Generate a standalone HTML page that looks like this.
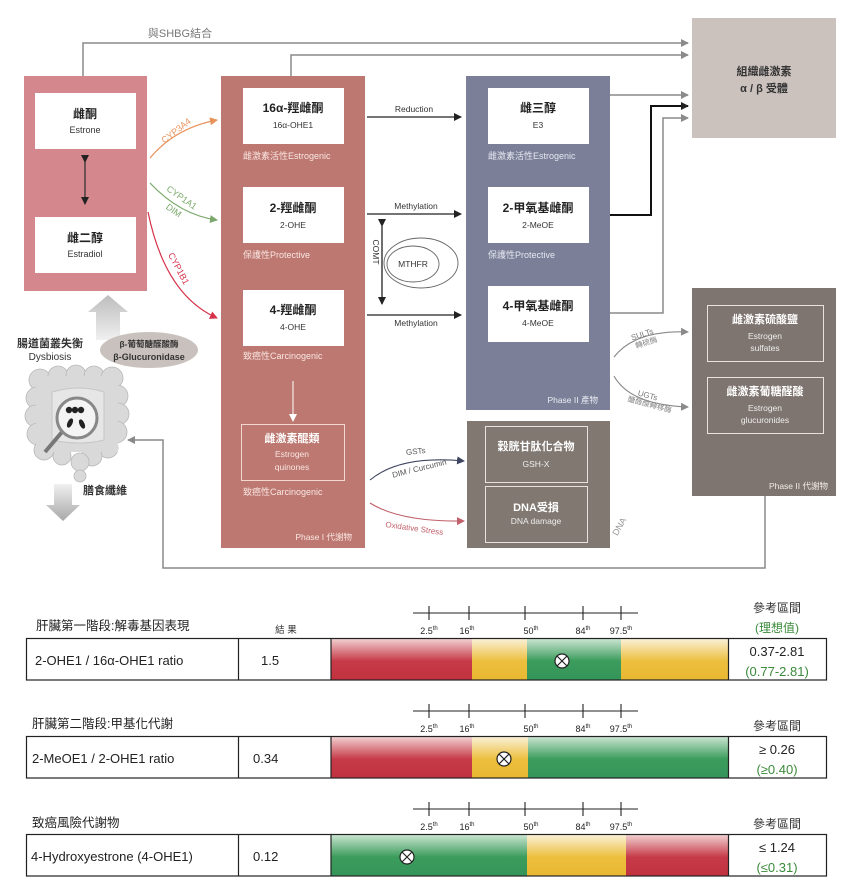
<!DOCTYPE html>
<html><head><meta charset="utf-8"><style>
html,body{margin:0;padding:0;background:#fff;width:865px;height:890px;overflow:hidden}
svg{display:block}
text{font-family:"Liberation Sans","Noto Sans CJK TC",sans-serif}
</style></head><body>
<svg width="865" height="890" viewBox="0 0 865 890" xmlns="http://www.w3.org/2000/svg">
<defs>
<marker id="ag" markerWidth="8" markerHeight="8" refX="7" refY="4" orient="auto" markerUnits="userSpaceOnUse"><path d="M0,0 L8,4 L0,8 z" fill="#8a8a8a"/></marker>
<marker id="ak" markerWidth="8" markerHeight="8" refX="7" refY="4" orient="auto" markerUnits="userSpaceOnUse"><path d="M0,0 L8,4 L0,8 z" fill="#222"/></marker>
<marker id="ab" markerWidth="8" markerHeight="8" refX="7" refY="4" orient="auto" markerUnits="userSpaceOnUse"><path d="M0,0 L8,4 L0,8 z" fill="#3e4560"/></marker>
<marker id="ao" markerWidth="8" markerHeight="8" refX="7" refY="4" orient="auto" markerUnits="userSpaceOnUse"><path d="M0,0 L8,4 L0,8 z" fill="#e8925a"/></marker>
<marker id="agr" markerWidth="8" markerHeight="8" refX="7" refY="4" orient="auto" markerUnits="userSpaceOnUse"><path d="M0,0 L8,4 L0,8 z" fill="#7aa86a"/></marker>
<marker id="ar" markerWidth="8" markerHeight="8" refX="7" refY="4" orient="auto" markerUnits="userSpaceOnUse"><path d="M0,0 L8,4 L0,8 z" fill="#d6334a"/></marker>
<marker id="arp" markerWidth="8" markerHeight="8" refX="7" refY="4" orient="auto" markerUnits="userSpaceOnUse"><path d="M0,0 L8,4 L0,8 z" fill="#c0606a"/></marker>
<marker id="aw" markerWidth="8" markerHeight="8" refX="7" refY="4" orient="auto" markerUnits="userSpaceOnUse"><path d="M0,0 L8,4 L0,8 z" fill="#fff"/></marker>
<linearGradient id="gr" x1="0" y1="0" x2="0" y2="1"><stop offset="0" stop-color="#f3d6d6"/><stop offset="0.55" stop-color="#c63a48"/><stop offset="1" stop-color="#c2323f"/></linearGradient>
<linearGradient id="gy" x1="0" y1="0" x2="0" y2="1"><stop offset="0" stop-color="#fbf2dc"/><stop offset="0.55" stop-color="#ecbf3e"/><stop offset="1" stop-color="#e9b832"/></linearGradient>
<linearGradient id="gg" x1="0" y1="0" x2="0" y2="1"><stop offset="0" stop-color="#cfe7d5"/><stop offset="0.55" stop-color="#3b9c5c"/><stop offset="1" stop-color="#35955a"/></linearGradient>
<linearGradient id="ga" x1="0" y1="0" x2="0" y2="1"><stop offset="0" stop-color="#bdbdbd"/><stop offset="1" stop-color="#f0f0f0"/></linearGradient>
<linearGradient id="gd" x1="0" y1="0" x2="0" y2="1"><stop offset="0" stop-color="#f0f0f0"/><stop offset="1" stop-color="#a8a8a8"/></linearGradient>
</defs>

<g fill="none" stroke="#8a8a8a" stroke-width="1.5">
<path d="M83,76 V43 H688" marker-end="url(#ag)"/>
<path d="M291,76 V55 H688" marker-end="url(#ag)"/>
<path d="M610,95 H688" marker-end="url(#ag)"/>
<path d="M610,313 H663 V118 H688" marker-end="url(#ag)"/>
<path d="M765,496 V568 H163 V440 H128" marker-end="url(#ag)"/>
</g>
<path d="M610,215 H651 V106 H688" fill="none" stroke="#111" stroke-width="2" marker-end="url(#ak)"/>
<text x="180" y="37" font-size="11" fill="#777" text-anchor="middle">與SHBG結合</text>

<rect x="24" y="76" width="123" height="215" fill="#d4888e"/>
<rect x="35" y="93" width="101" height="56" fill="#fff"/>
<rect x="35" y="217" width="101" height="56" fill="#fff"/>
<text x="85" y="118" font-size="12" font-weight="bold" text-anchor="middle" fill="#222">雌酮</text>
<text x="85" y="133" font-size="9" text-anchor="middle" fill="#333">Estrone</text>
<text x="85" y="242" font-size="12" font-weight="bold" text-anchor="middle" fill="#222">雌二醇</text>
<text x="85" y="257" font-size="9" text-anchor="middle" fill="#333">Estradiol</text>
<path d="M85,162 V204" stroke="#333" stroke-width="1.3" marker-end="url(#ak)" marker-start="url(#ak)" fill="none"/>

<path d="M150,158 Q175,128 217,120" fill="none" stroke="#e8925a" stroke-width="1.2" marker-end="url(#ao)"/>
<text x="178" y="133" font-size="9" fill="#e8925a" transform="rotate(-38 178 133)" text-anchor="middle">CYP3A4</text>
<path d="M150,183 Q180,215 217,220" fill="none" stroke="#7aa86a" stroke-width="1.2" marker-end="url(#agr)"/>
<text x="180" y="200" font-size="9" fill="#7aa86a" transform="rotate(35 180 200)" text-anchor="middle">CYP1A1</text>
<text x="172" y="213" font-size="9" fill="#7aa86a" transform="rotate(35 172 213)" text-anchor="middle">DIM</text>
<path d="M148,212 Q165,295 217,318" fill="none" stroke="#d6334a" stroke-width="1.2" marker-end="url(#ar)"/>
<text x="176" y="270" font-size="9" fill="#d6334a" transform="rotate(62 176 270)" text-anchor="middle">CYP1B1</text>

<rect x="221" y="76" width="144" height="472" fill="#bc7871"/>
<rect x="243" y="88" width="101" height="56" fill="#fff"/>
<rect x="243" y="187" width="101" height="56" fill="#fff"/>
<rect x="243" y="290" width="101" height="56" fill="#fff"/>
<text x="293" y="112" font-size="12" font-weight="bold" text-anchor="middle" fill="#222">16α-羥雌酮</text>
<text x="293" y="128" font-size="8.5" text-anchor="middle" fill="#333">16α-OHE1</text>
<text x="293" y="212" font-size="12" font-weight="bold" text-anchor="middle" fill="#222">2-羥雌酮</text>
<text x="293" y="228" font-size="8.5" text-anchor="middle" fill="#333">2-OHE</text>
<text x="293" y="314" font-size="12" font-weight="bold" text-anchor="middle" fill="#222">4-羥雌酮</text>
<text x="293" y="330" font-size="8.5" text-anchor="middle" fill="#333">4-OHE</text>
<g font-size="9" fill="#fbe6e2">
<text x="243" y="159">雌激素活性Estrogenic</text>
<text x="243" y="258">保護性Protective</text>
<text x="243" y="359">致癌性Carcinogenic</text>
<text x="243" y="495">致癌性Carcinogenic</text>
</g>
<path d="M293,381 V421" stroke="#fff" stroke-width="1" marker-end="url(#aw)" fill="none"/>
<rect x="241.5" y="424.5" width="103" height="56" fill="none" stroke="#f3d8d2" stroke-width="1"/>
<text x="292" y="442" font-size="11" font-weight="bold" text-anchor="middle" fill="#fff">雌激素醌類</text>
<text x="292" y="457" font-size="8.5" text-anchor="middle" fill="#fbe6e2">Estrogen</text>
<text x="292" y="470" font-size="8.5" text-anchor="middle" fill="#fbe6e2">quinones</text>
<text x="352" y="540" font-size="8.5" text-anchor="end" fill="#fbe6e2">Phase I 代謝物</text>

<g fill="none" stroke="#222" stroke-width="1.3">
<path d="M367,117 H461" marker-end="url(#ak)"/>
<path d="M367,214 H461" marker-end="url(#ak)"/>
<path d="M367,315 H461" marker-end="url(#ak)"/>
<path d="M382,226 V304" marker-end="url(#ak)" marker-start="url(#ak)"/>
</g>
<g font-size="8.5" fill="#333" text-anchor="middle">
<text x="414" y="112">Reduction</text>
<text x="416" y="209">Methylation</text>
<text x="416" y="326">Methylation</text>
<text x="373" y="252" transform="rotate(90 373 252)">COMT</text>
<text x="413" y="267">MTHFR</text>
</g>
<ellipse cx="421" cy="263" rx="37" ry="25" fill="none" stroke="#666" stroke-width="0.9"/>
<ellipse cx="413" cy="264" rx="26" ry="18" fill="none" stroke="#666" stroke-width="0.9"/>

<rect x="466" y="76" width="144" height="334" fill="#7b7f98"/>
<rect x="488" y="88" width="101" height="56" fill="#fff"/>
<rect x="488" y="187" width="101" height="56" fill="#fff"/>
<rect x="488" y="286" width="101" height="56" fill="#fff"/>
<text x="538" y="112" font-size="12" font-weight="bold" text-anchor="middle" fill="#222">雌三醇</text>
<text x="538" y="128" font-size="8.5" text-anchor="middle" fill="#333">E3</text>
<text x="538" y="212" font-size="12" font-weight="bold" text-anchor="middle" fill="#222">2-甲氧基雌酮</text>
<text x="538" y="228" font-size="8.5" text-anchor="middle" fill="#333">2-MeOE</text>
<text x="538" y="310" font-size="12" font-weight="bold" text-anchor="middle" fill="#222">4-甲氧基雌酮</text>
<text x="538" y="326" font-size="8.5" text-anchor="middle" fill="#333">4-MeOE</text>
<text x="488" y="159" font-size="9" fill="#e6e8f0">雌激素活性Estrogenic</text>
<text x="488" y="258" font-size="9" fill="#e6e8f0">保護性Protective</text>
<text x="598" y="403" font-size="8.5" text-anchor="end" fill="#eceef4">Phase II 產物</text>

<rect x="692" y="18" width="144" height="120" fill="#cbc2be"/>
<text x="764" y="75" font-size="11" font-weight="bold" text-anchor="middle" fill="#333">組織雌激素</text>
<text x="764" y="92" font-size="11" font-weight="bold" text-anchor="middle" fill="#333">α / β 受體</text>

<rect x="692" y="288" width="144" height="208" fill="#7f7570"/>
<rect x="707.5" y="305.5" width="116" height="56" fill="none" stroke="#e8e2de" stroke-width="1"/>
<rect x="707.5" y="377.5" width="116" height="56" fill="none" stroke="#e8e2de" stroke-width="1"/>
<text x="765" y="323" font-size="11" font-weight="bold" text-anchor="middle" fill="#fff">雌激素硫酸鹽</text>
<text x="765" y="339" font-size="8.5" text-anchor="middle" fill="#eee">Estrogen</text>
<text x="765" y="351" font-size="8.5" text-anchor="middle" fill="#eee">sulfates</text>
<text x="765" y="395" font-size="11" font-weight="bold" text-anchor="middle" fill="#fff">雌激素葡糖醛酸</text>
<text x="765" y="411" font-size="8.5" text-anchor="middle" fill="#eee">Estrogen</text>
<text x="765" y="423" font-size="8.5" text-anchor="middle" fill="#eee">glucuronides</text>
<text x="828" y="489" font-size="8.5" text-anchor="end" fill="#f0ece8">Phase II 代謝物</text>

<path d="M614,357 Q635,330 688,332" fill="none" stroke="#888" stroke-width="1.1" marker-end="url(#ag)"/>
<text x="643" y="337" font-size="8" fill="#777" transform="rotate(-18 643 337)" text-anchor="middle">SULTs</text>
<text x="647" y="345" font-size="7.5" fill="#888" transform="rotate(-18 647 345)" text-anchor="middle">轉硫酶</text>
<path d="M614,376 Q630,405 688,407" fill="none" stroke="#888" stroke-width="1.1" marker-end="url(#ag)"/>
<text x="647" y="398" font-size="8" fill="#777" transform="rotate(15 647 398)" text-anchor="middle">UGTs</text>
<text x="649" y="407" font-size="7.5" fill="#888" transform="rotate(15 649 407)" text-anchor="middle">醣醛酸轉移酶</text>

<rect x="467" y="421" width="143" height="127" fill="#817872"/>
<rect x="485.5" y="426.5" width="102" height="56" fill="none" stroke="#e8e2de" stroke-width="1"/>
<rect x="485.5" y="486.5" width="102" height="56" fill="none" stroke="#e8e2de" stroke-width="1"/>
<text x="536" y="450" font-size="11" font-weight="bold" text-anchor="middle" fill="#fff">穀胱甘肽化合物</text>
<text x="536" y="467" font-size="8.5" text-anchor="middle" fill="#eee">GSH-X</text>
<text x="536" y="511" font-size="11" font-weight="bold" text-anchor="middle" fill="#fff">DNA受損</text>
<text x="536" y="524" font-size="8.5" text-anchor="middle" fill="#eee">DNA damage</text>
<text x="622" y="528" font-size="9" fill="#999" transform="rotate(-60 622 528)" text-anchor="middle">DNA</text>

<path d="M370,480 Q400,455 464,461" fill="none" stroke="#3e4560" stroke-width="1.1" marker-end="url(#ab)"/>
<text x="416" y="454" font-size="8" fill="#555" transform="rotate(-6 416 454)" text-anchor="middle">GSTs</text>
<text x="420" y="471" font-size="8" fill="#555" transform="rotate(-14 420 471)" text-anchor="middle">DIM / Curcumin</text>
<path d="M370,503 Q400,522 464,521" fill="none" stroke="#c0606a" stroke-width="1.1" marker-end="url(#arp)"/>
<text x="414" y="531" font-size="8" fill="#c0606a" transform="rotate(8 414 531)" text-anchor="middle">Oxidative Stress</text>

<!-- gut area -->
<path d="M96,340 V312 H88 L108,295 L128,312 H120 V340 z" fill="url(#ga)"/>
<text x="50" y="347" font-size="11" font-weight="bold" text-anchor="middle" fill="#333">腸道菌叢失衡</text>
<text x="50" y="360" font-size="10" text-anchor="middle" fill="#333">Dysbiosis</text>
<ellipse cx="149" cy="350" rx="49" ry="18" fill="#c9c1bd"/>
<text x="149" y="347" font-size="8.5" font-weight="bold" text-anchor="middle" fill="#333">β-葡萄醣醛酸酶</text>
<text x="149" y="360" font-size="9" font-weight="bold" text-anchor="middle" fill="#333">β-Glucuronidase</text>
<g fill="#d9d9d9" stroke="#b8b8b8" stroke-width="0.8">
<circle cx="40" cy="380" r="11"/><circle cx="58" cy="376" r="10"/><circle cx="76" cy="375" r="10"/><circle cx="94" cy="376" r="10"/><circle cx="112" cy="378" r="11"/>
<circle cx="37" cy="398" r="11"/><circle cx="36" cy="416" r="11"/><circle cx="38" cy="434" r="11"/><circle cx="44" cy="450" r="10"/>
<circle cx="117" cy="396" r="11"/><circle cx="118" cy="414" r="11"/><circle cx="116" cy="432" r="11"/><circle cx="108" cy="448" r="10"/>
<circle cx="62" cy="456" r="9"/><circle cx="92" cy="456" r="10"/><circle cx="80" cy="462" r="9"/><circle cx="80" cy="476" r="6"/>
</g>
<rect x="36" y="376" width="82" height="76" fill="#d9d9d9"/>
<path d="M52,392 Q80,384 104,392 V440 Q80,446 52,440 z" fill="#e6e6e6" stroke="#c6c6c6"/>
<line x1="62" y1="432" x2="45" y2="452" stroke="#777" stroke-width="4"/>
<circle cx="77" cy="418" r="20" fill="#f4f4f4" stroke="#888" stroke-width="3"/>
<circle cx="69" cy="410" r="3.2" fill="#222"/><circle cx="75" cy="410" r="3.2" fill="#222"/><circle cx="81" cy="410" r="3.2" fill="#222"/>
<ellipse cx="70" cy="423" rx="2.5" ry="5" fill="#222" transform="rotate(25 70 423)"/>
<ellipse cx="82" cy="424" rx="2.5" ry="5" fill="#222" transform="rotate(-25 82 424)"/>
<path d="M54,484 H72 V505 H80 L63,521 L46,505 H54 z" fill="url(#gd)"/>
<text x="105" y="494" font-size="11" font-weight="bold" text-anchor="middle" fill="#333">膳食纖維</text>

<!-- TABLES -->
<g font-size="12.5" fill="#222">
<text x="36" y="630">肝臟第一階段:解毒基因表現</text>
<text x="32" y="728">肝臟第二階段:甲基化代謝</text>
<text x="32" y="827">致癌風險代謝物</text>
</g>
<text x="286" y="633" font-size="9.5" text-anchor="middle" fill="#333">結 果</text>

<rect x="331" y="638" width="141" height="42" fill="url(#gr)"/>
<rect x="472" y="638" width="55" height="42" fill="url(#gy)"/>
<rect x="527" y="638" width="94" height="42" fill="url(#gg)"/>
<rect x="621" y="638" width="107" height="42" fill="url(#gy)"/>
<rect x="331" y="736" width="141" height="42" fill="url(#gr)"/>
<rect x="472" y="736" width="56" height="42" fill="url(#gy)"/>
<rect x="528" y="736" width="200" height="42" fill="url(#gg)"/>
<rect x="331" y="834" width="196" height="42" fill="url(#gg)"/>
<rect x="527" y="834" width="99" height="42" fill="url(#gy)"/>
<rect x="626" y="834" width="102" height="42" fill="url(#gr)"/>

<g fill="none" stroke="#222" stroke-width="1.2">
<rect x="26.5" y="638.5" width="800" height="41.5"/>
<line x1="238.5" y1="638" x2="238.5" y2="680"/><line x1="331" y1="638" x2="331" y2="680"/><line x1="728.5" y1="638" x2="728.5" y2="680"/>
<rect x="26.5" y="736.5" width="800" height="41.5"/>
<line x1="238.5" y1="736" x2="238.5" y2="778"/><line x1="331" y1="736" x2="331" y2="778"/><line x1="728.5" y1="736" x2="728.5" y2="778"/>
<rect x="26.5" y="834.5" width="800" height="41.5"/>
<line x1="238.5" y1="834" x2="238.5" y2="876"/><line x1="331" y1="834" x2="331" y2="876"/><line x1="728.5" y1="834" x2="728.5" y2="876"/>
</g>
<g font-size="13" fill="#222">
<text x="35" y="665">2-OHE1 / 16α-OHE1 ratio</text>
<text x="261" y="665">1.5</text>
<text x="32" y="763">2-MeOE1 / 2-OHE1 ratio</text>
<text x="253" y="763">0.34</text>
<text x="31" y="861">4-Hydroxyestrone (4-OHE1)</text>
<text x="253" y="861">0.12</text>
</g>

<g stroke="#222" stroke-width="1.2" fill="#fff">
<circle cx="562" cy="661" r="7"/><path d="M557,656 L567,666 M567,656 L557,666"/>
<circle cx="504" cy="759" r="7"/><path d="M499,754 L509,764 M509,754 L499,764"/>
<circle cx="407" cy="857" r="7"/><path d="M402,852 L412,862 M412,852 L402,862"/>
</g>

<g stroke="#222" stroke-width="1.1">
<line x1="413" y1="613" x2="638" y2="613"/>
<line x1="429" y1="606" x2="429" y2="620"/><line x1="469" y1="606" x2="469" y2="620"/><line x1="525" y1="606" x2="525" y2="620"/><line x1="583" y1="606" x2="583" y2="620"/><line x1="621" y1="606" x2="621" y2="620"/>
<line x1="413" y1="711" x2="638" y2="711"/>
<line x1="429" y1="704" x2="429" y2="718"/><line x1="469" y1="704" x2="469" y2="718"/><line x1="525" y1="704" x2="525" y2="718"/><line x1="583" y1="704" x2="583" y2="718"/><line x1="621" y1="704" x2="621" y2="718"/>
<line x1="413" y1="809" x2="638" y2="809"/>
<line x1="429" y1="802" x2="429" y2="816"/><line x1="469" y1="802" x2="469" y2="816"/><line x1="525" y1="802" x2="525" y2="816"/><line x1="583" y1="802" x2="583" y2="816"/><line x1="621" y1="802" x2="621" y2="816"/>
</g>
<g font-size="9" fill="#222" text-anchor="middle">
<text x="429" y="634">2.5<tspan font-size="6" dy="-4">th</tspan></text>
<text x="467" y="634">16<tspan font-size="6" dy="-4">th</tspan></text>
<text x="531" y="634">50<tspan font-size="6" dy="-4">th</tspan></text>
<text x="583" y="634">84<tspan font-size="6" dy="-4">th</tspan></text>
<text x="621" y="634">97.5<tspan font-size="6" dy="-4">th</tspan></text>
<text x="429" y="732">2.5<tspan font-size="6" dy="-4">th</tspan></text>
<text x="467" y="732">16<tspan font-size="6" dy="-4">th</tspan></text>
<text x="531" y="732">50<tspan font-size="6" dy="-4">th</tspan></text>
<text x="583" y="732">84<tspan font-size="6" dy="-4">th</tspan></text>
<text x="621" y="732">97.5<tspan font-size="6" dy="-4">th</tspan></text>
<text x="429" y="830">2.5<tspan font-size="6" dy="-4">th</tspan></text>
<text x="467" y="830">16<tspan font-size="6" dy="-4">th</tspan></text>
<text x="531" y="830">50<tspan font-size="6" dy="-4">th</tspan></text>
<text x="583" y="830">84<tspan font-size="6" dy="-4">th</tspan></text>
<text x="621" y="830">97.5<tspan font-size="6" dy="-4">th</tspan></text>
</g>

<g text-anchor="middle" font-size="12">
<text x="777" y="612" fill="#333">參考區間</text>
<text x="777" y="632" fill="#3a8a3a">(理想值)</text>
<text x="777" y="656" fill="#222" font-size="13">0.37-2.81</text>
<text x="777" y="676" fill="#3a8a3a" font-size="13">(0.77-2.81)</text>
<text x="777" y="730" fill="#333">參考區間</text>
<text x="777" y="754" fill="#222" font-size="13">≥ 0.26</text>
<text x="777" y="774" fill="#3a8a3a" font-size="13">(≥0.40)</text>
<text x="777" y="828" fill="#333">參考區間</text>
<text x="777" y="852" fill="#222" font-size="13">≤ 1.24</text>
<text x="777" y="872" fill="#3a8a3a" font-size="13">(≤0.31)</text>
</g>
</svg>
</body></html>
